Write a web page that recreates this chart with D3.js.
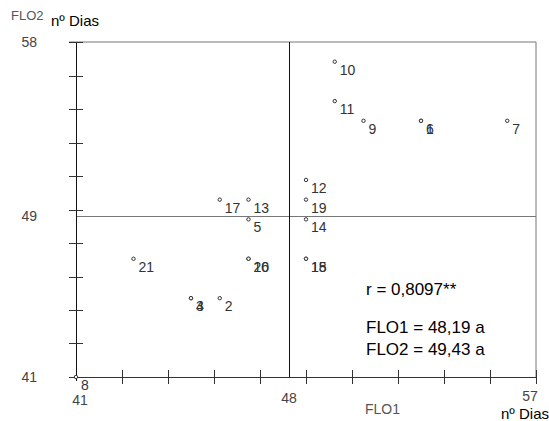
<!DOCTYPE html>
<html><head><meta charset="utf-8">
<script src="https://cdn.jsdelivr.net/npm/d3@7"></script>
<style>body{margin:0;background:#fff}svg{display:block;font-family:"Liberation Sans",Arial,sans-serif}</style>
</head><body>
<svg id="c" width="549" height="421"></svg>
<script>
// Data
const ids  = ["1","2","3","4","5","6","7","8","9","10","11","12","13","14","15","16","17","18","19","20","21"];
const flo1 = [53,46,45,45,47,53,56,41,51,50,50,49,47,49,49,47,46,49,49,47,43];
const flo2 = [54,45,45,45,49,54,54,41,54,57,55,51,50,49,47,47,50,47,50,47,47];
const xDomain = [41,57];
const yDomain = [41,58];
const guideX = 48.41;   // vertical reference line (as drawn)
const guideY = 49.17;   // horizontal reference line (as drawn)
const xLabels = ["41","48","57"];
const yLabels = ["58","49","41"];
const notes = ["r = 0,8097**","FLO1 = 48,19 a","FLO2 = 49,43 a"];

const svg = d3.select("#c");
const x = d3.scaleLinear().domain(xDomain).range([76,536]);
const y = d3.scaleLinear().domain(yDomain).range([377,42]);

const xt = d3.range(11).map(i => xDomain[0] + i*(xDomain[1]-xDomain[0])/10);
const yt = d3.range(11).map(i => yDomain[0] + i*(yDomain[1]-yDomain[0])/10);

// frame (top and right)
svg.append("line").attr("x1",69).attr("x2",x(57)).attr("y1",y(58)).attr("y2",y(58)).attr("stroke","#777");
svg.append("line").attr("x1",x(57)).attr("x2",x(57)).attr("y1",y(58)).attr("y2",y(41)).attr("stroke","#777");

// horizontal guide
svg.append("line").attr("x1",x(41)).attr("x2",x(57)).attr("y1",Math.round(y(guideY))+0.5).attr("y2",Math.round(y(guideY))+0.5).attr("stroke","#777");
// vertical guide
svg.append("line").attr("x1",Math.round(x(guideX))+0.5).attr("x2",Math.round(x(guideX))+0.5).attr("y1",y(58)).attr("y2",y(41)).attr("stroke","#111");

// axes lines
svg.append("line").attr("x1",x(41)+0.5).attr("x2",x(41)+0.5).attr("y1",y(58)).attr("y2",y(41)+4).attr("stroke","#111");
svg.append("line").attr("x1",69).attr("x2",x(57)).attr("y1",y(41)+0.5).attr("y2",y(41)+0.5).attr("stroke","#333");

// ticks
svg.selectAll(".yt").data(yt.slice(1)).enter().append("line")
  .attr("x1",69).attr("x2",83).attr("y1",d=>Math.round(y(d))+0.5).attr("y2",d=>Math.round(y(d))+0.5).attr("stroke","#333");
svg.selectAll(".xt").data(xt.slice(1)).enter().append("line")
  .attr("x1",d=>Math.round(x(d))+0.5).attr("x2",d=>Math.round(x(d))+0.5).attr("y1",370).attr("y2",384).attr("stroke","#333");

// axis labels
const xLabelPos = [xDomain[0], guideX, xDomain[1]];
const xLabelDx = [4, 0, -6];
const xLabelY = [405, 403, 401];
svg.selectAll(".xl").data(xLabels).enter().append("text")
  .attr("x",(d,i)=>x(xLabelPos[i])+xLabelDx[i]).attr("y",(d,i)=>xLabelY[i]).attr("text-anchor","middle")
  .attr("font-size",14).attr("fill","#444").text(d=>d);
const yLabelPos = [yDomain[1], guideY, yDomain[0]];
svg.selectAll(".yl").data(yLabels).enter().append("text")
  .attr("x",37).attr("y",(d,i)=>y(yLabelPos[i])+5).attr("text-anchor","end")
  .attr("font-size",14).attr("fill","#444").text(d=>d);

svg.append("text").attr("x",11).attr("y",20).attr("font-size",13).attr("fill","#555").text("FLO2");
svg.append("text").attr("x",51).attr("y",26).attr("font-size",15).attr("fill","#000").text("nº Dias");
svg.append("text").attr("x",365).attr("y",414).attr("font-size",14).attr("fill","#555").text("FLO1");
svg.append("text").attr("x",549).attr("y",419).attr("text-anchor","end").attr("font-size",15).attr("fill","#000").text("nº Dias");

// points
const pts = ids.map((id,i)=>({id, a:flo1[i], b:flo2[i]}));
svg.selectAll(".pt").data(pts).enter().append("circle")
  .attr("cx",d=>x(d.a)).attr("cy",d=>y(d.b)).attr("r",1.7)
  .attr("fill","#fff").attr("stroke","#333").attr("stroke-width",1);
svg.selectAll(".pl").data(pts).enter().append("text")
  .attr("x",d=>x(d.a)+5).attr("y",d=>y(d.b)+13)
  .attr("font-size",14).attr("fill","#333").text(d=>d.id);

// notes
const noteY = [295, 333, 355];
svg.selectAll(".nt").data(notes).enter().append("text")
  .attr("x",366).attr("y",(d,i)=>noteY[i]).attr("font-size",17).attr("fill","#000").text(d=>d);
</script>
</body></html>
